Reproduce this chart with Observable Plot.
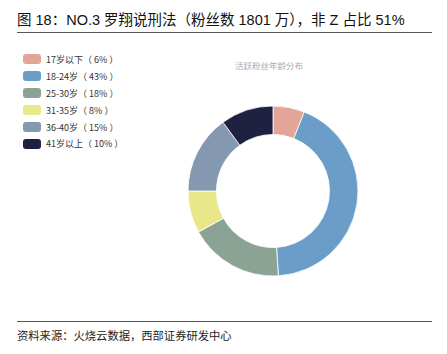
<!DOCTYPE html>
<html><head><meta charset="utf-8">
<script src="https://cdn.jsdelivr.net/npm/d3@7"></script>
<script src="https://cdn.jsdelivr.net/npm/@observablehq/plot@0.6"></script>
<style>
body{margin:0;background:#fff;font-family:"Liberation Sans","Noto Sans CJK SC",sans-serif;}
#wrap{position:relative;width:447px;height:354px;overflow:hidden;}
#title{position:absolute;left:17px;top:8px;font-size:14.5px;color:#111;white-space:nowrap;}
.rule{position:absolute;left:17px;width:415px;height:0;border-top:1.2px solid #555;}
#source{position:absolute;left:17px;top:327px;font-size:11.3px;color:#222;white-space:nowrap;font-family:"Noto Sans CJK SC",sans-serif;}
#sub{position:absolute;left:235px;top:59px;font-size:8.5px;color:#aaa;white-space:nowrap;font-family:"Noto Sans CJK SC",sans-serif;}
#legend{position:absolute;left:23px;top:51px;font-size:9px;color:#333;font-family:"Noto Sans CJK SC",sans-serif;}
.item{display:flex;align-items:center;height:16.9px;}
.sw{width:18px;height:10px;border-radius:3px;margin-right:5px;}
#chart{position:absolute;left:0;top:40px;}
</style></head><body>
<div id="wrap">
<div id="title">图 18：NO.3 罗翔说刑法（粉丝数 1801 万），非 Z 占比 51%</div>
<div class="rule" style="top:32px"></div>
<div id="sub">活跃粉丝年龄分布</div>
<div id="legend"></div>
<div id="chart"></div>
<div class="rule" style="top:321px"></div>
<div id="source">资料来源：火烧云数据，西部证券研发中心</div>
</div>
<script>
const categories = ["17岁以下", "18-24岁", "25-30岁", "31-35岁", "36-40岁", "41岁以上"];
const values = [6, 43, 18, 8, 15, 10];
const colors = ["#e3a598", "#6a9ec8", "#8aa394", "#e8e88a", "#8499b0", "#1e2140"];

const data = categories.map((c, i) => ({category: c, value: values[i]}));

// legend
const leg = document.getElementById("legend");
data.forEach((d, i) => {
  const it = document.createElement("div");
  it.className = "item";
  it.innerHTML = `<div class="sw" style="background:${colors[i]}"></div><span>${d.category}（ ${d.value}% ）</span>`;
  leg.appendChild(it);
});

const pie = d3.pie().sort(null).value(d => d.value)(data);

const donut = (index, scales, values, dims) => {
  const cx = scales.x(0), cy = scales.y(0);
  const R = Math.abs(scales.x(1) - scales.x(0));
  const r = R * 0.665;
  const arc = d3.arc().innerRadius(r).outerRadius(R);
  const g = d3.create("svg:g").attr("transform", `translate(${cx},${cy})`);
  g.selectAll("path").data(pie).join("path")
    .attr("d", arc)
    .attr("fill", (d, i) => scales.color(d.data.category))
    .attr("stroke", "#fff")
    .attr("stroke-width", 0.8);
  return g.node();
};

const chart = Plot.plot({
  width: 447,
  height: 280,
  marginLeft: 188,
  marginRight: 89,
  marginTop: 66,
  marginBottom: 44,
  x: {domain: [-1, 1], axis: null},
  y: {domain: [-1, 1], axis: null},
  color: {domain: categories, range: colors},
  marks: [donut]
});
document.getElementById("chart").appendChild(chart);
</script>
</body></html>
